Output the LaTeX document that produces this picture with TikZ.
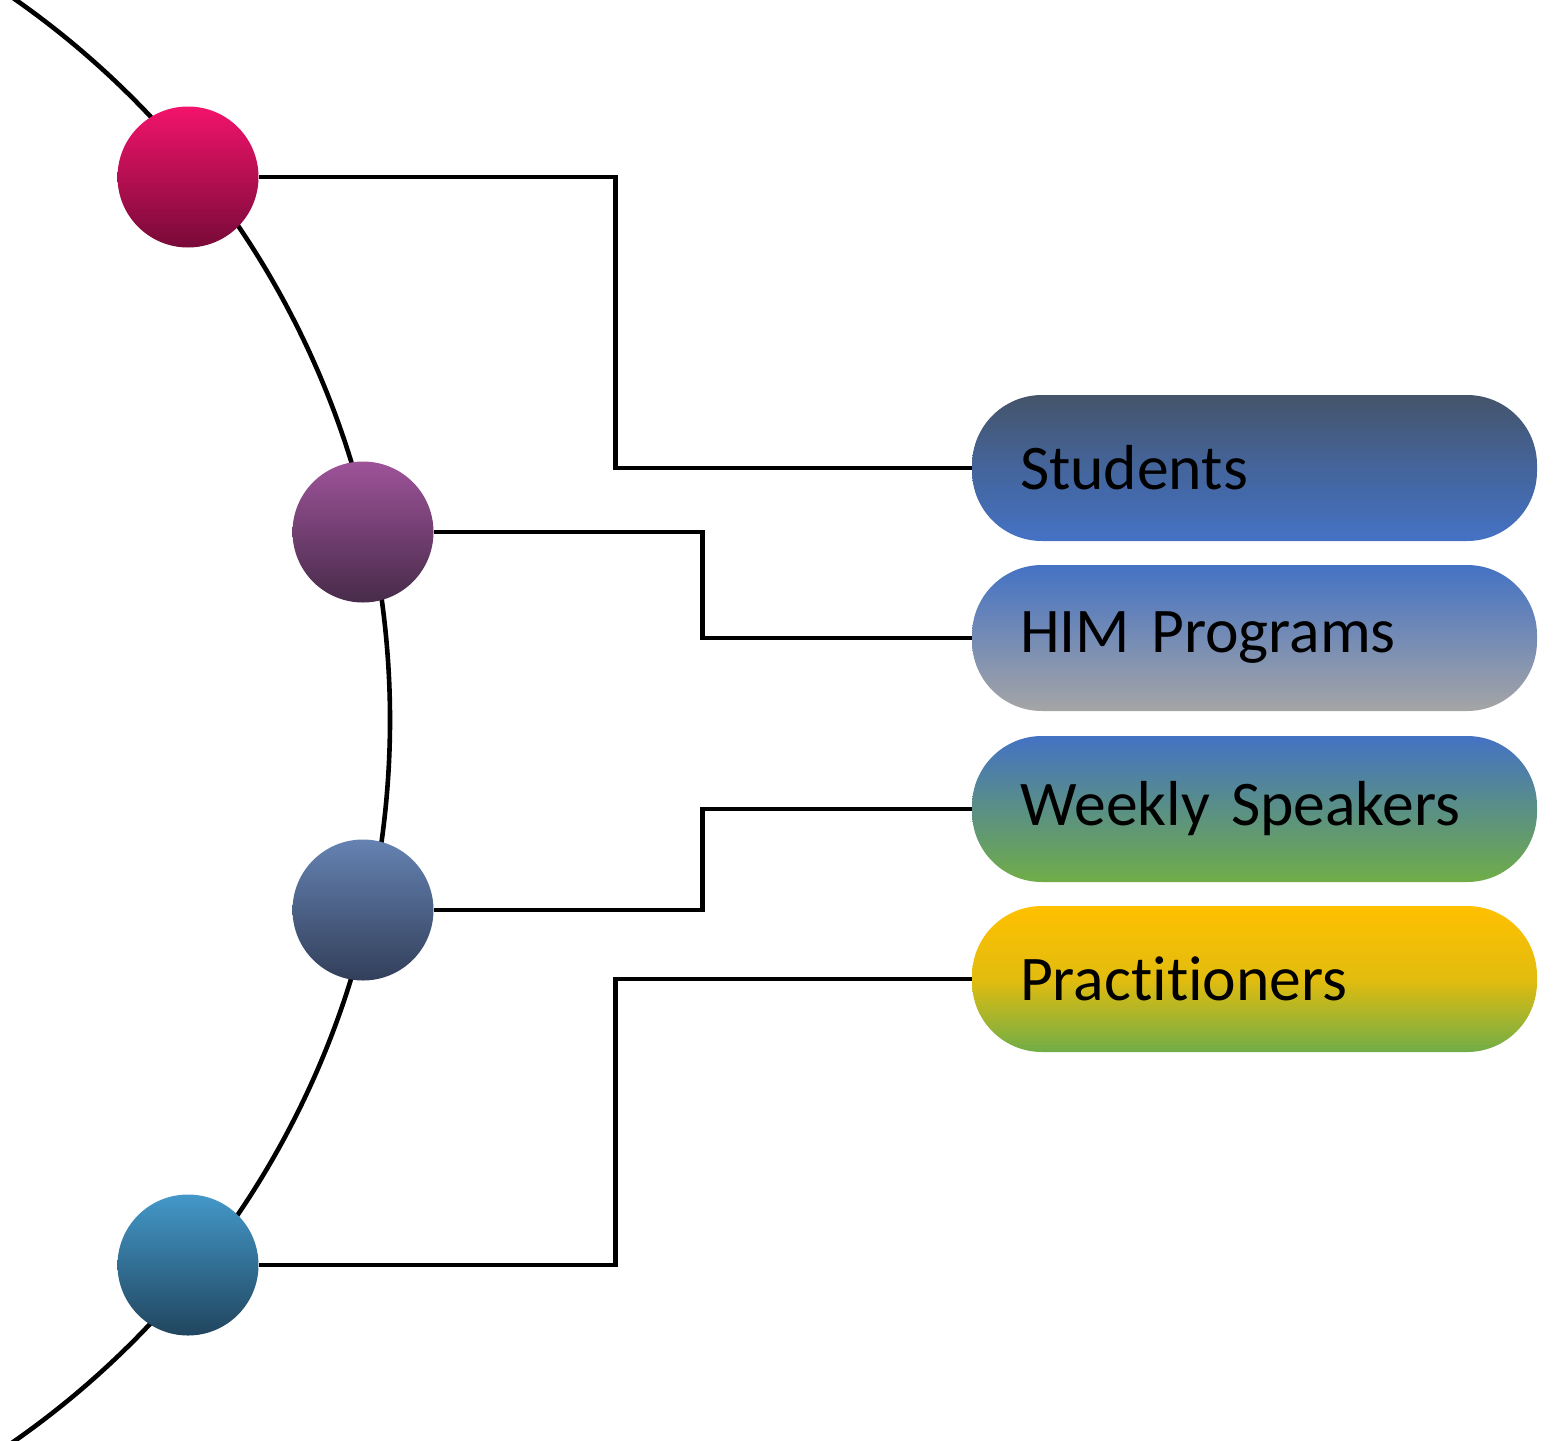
\documentclass[tikz,border=0pt]{standalone}
\usepackage{fontspec}
\setmainfont[Ligatures=NoCommon]{Carlito}
\usetikzlibrary{calc}
\definecolor{c1t}{HTML}{F2136B}
\definecolor{c1b}{HTML}{780A38}
\definecolor{c2t}{HTML}{9E5399}
\definecolor{c2b}{HTML}{472B4A}
\definecolor{c3t}{HTML}{6582B2}
\definecolor{c3b}{HTML}{323F5A}
\definecolor{c4t}{HTML}{4398C9}
\definecolor{c4b}{HTML}{21455E}
\definecolor{slate}{HTML}{44546A}
\definecolor{mblue}{HTML}{4472C4}
\definecolor{mgrey}{HTML}{A5A5A5}
\definecolor{mgreen}{HTML}{70AD47}
\definecolor{mgold}{HTML}{FFC000}
\tikzset{
  dot/.style={circle, minimum size=70.5pt, inner sep=0pt, draw=none},
  pill/.style={rectangle, rounded corners=35pt, minimum height=73pt,
    text width=234.5pt, inner xsep=24pt, align=left, draw=none,
    font=\fontsize{31.8}{38}\selectfont},
  link/.style={line width=2.3pt, line join=miter},
}
\begin{document}
\begin{tikzpicture}[x=0.5pt,y=-0.5pt]
\path[use as bounding box] (0,0) rectangle (1562,1440);
\begin{scope}
\clip (0,0) rectangle (1562,1440);
\coordinate (arcc) at (-490,720);
\draw[line width=2.3pt] ($(arcc)+(-57:880)$) arc[start angle=-57, end angle=57, radius=880];
\end{scope}
\node[dot, top color=c1t, bottom color=c1b] (c1) at (188,177) {};
\node[dot, top color=c2t, bottom color=c2b] (c2) at (363,532) {};
\node[dot, top color=c3t, bottom color=c3b] (c3) at (363,910) {};
\node[dot, top color=c4t, bottom color=c4b] (c4) at (188,1265) {};
\node[pill, top color=slate, bottom color=mblue, middle color=slate!45!mblue] (p1) at (1254.5,468) {Students};
\node[pill, top color=mblue, bottom color=mgrey] (p2) at (1254.5,638) {HIM Programs};
\node[pill, top color=mblue, bottom color=mgreen] (p3) at (1254.5,809) {Weekly Speakers};
\node[pill, top color=mgold, bottom color=mgreen, middle color=mgold!80!mgreen] (p4) at (1254.5,979) {Practitioners};
\draw[link] (c1.east) -| ($(c1.east)!.5!(p1.west)$) |- (p1.west);
\draw[link] (c2.east) -| ($(c2.east)!.5!(p2.west)$) |- (p2.west);
\draw[link] (c3.east) -| ($(c3.east)!.5!(p3.west)$) |- (p3.west);
\draw[link] (c4.east) -| ($(c4.east)!.5!(p4.west)$) |- (p4.west);
\end{tikzpicture}
\end{document}
